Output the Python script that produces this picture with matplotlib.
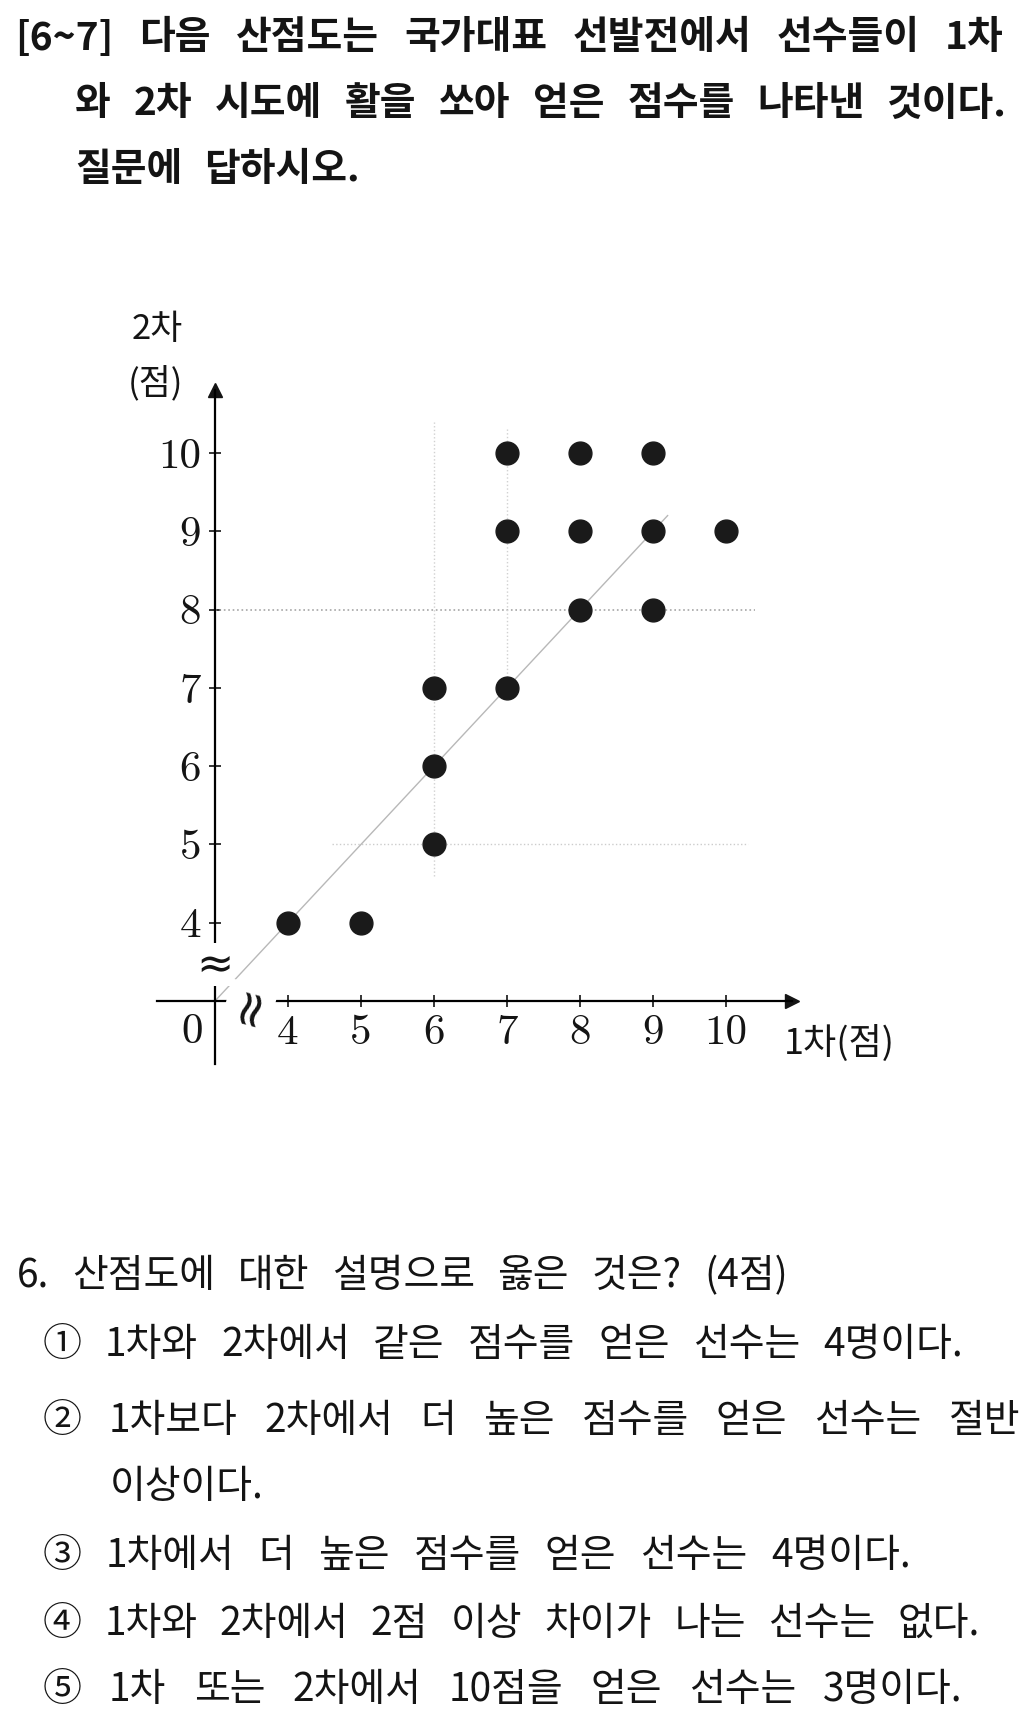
import numpy as np
import matplotlib.pyplot as plt

plt.rcParams['font.family'] = ['Noto Sans CJK KR', 'DejaVu Sans']

# scatter data: 1st and 2nd attempt scores
first = [4, 5, 6, 6, 6, 7, 7, 7, 8, 8, 8, 9, 9, 9, 10]
second = [4, 4, 5, 6, 7, 7, 9, 10, 8, 9, 10, 8, 9, 10, 9]
x_ticks = [4, 5, 6, 7, 8, 9, 10]
y_ticks = [4, 5, 6, 7, 8, 9, 10]

header = [
    "[6~7] 다음 산점도는 국가대표 선발전에서 선수들이 1차",
    "와 2차 시도에 활을 쏘아 얻은 점수를 나타낸 것이다.",
    "질문에 답하시오.",
]
question = "6. 산점도에 대한 설명으로 옳은 것은? (4점)"
choices = [
    "① 1차와 2차에서 같은 점수를 얻은 선수는 4명이다.",
    "② 1차보다 2차에서 더 높은 점수를 얻은 선수는 절반",
    "이상이다.",
    "③ 1차에서 더 높은 점수를 얻은 선수는 4명이다.",
    "④ 1차와 2차에서 2점 이상 차이가 나는 선수는 없다.",
    "⑤ 1차 또는 2차에서 10점을 얻은 선수는 3명이다.",
]

W, H = 1027, 1721
fig = plt.figure(figsize=(W / 100, H / 100), dpi=100)
renderer = fig.canvas.get_renderer()


def put_line(text, x0, y, size, x1=None, weight="normal", color="#141414"):
    # place words one by one, spread to fill x0..x1 (pixels) like the print
    words = text.split(" ")
    arts = [fig.text(0, 1 - y / H, w, fontsize=size, fontweight=weight,
                     va="center", ha="left", color=color) for w in words]
    widths = [a.get_window_extent(renderer).width for a in arts]
    if x1 is None or len(words) == 1:
        gap = size * 100 / 72 * 0.55
    else:
        gap = (x1 - x0 - sum(widths)) / (len(words) - 1)
    x = x0
    for a, w in zip(arts, widths):
        a.set_x(x / W)
        x += w + gap


put_line(header[0], 15, 38, 28, 1004, weight="bold")
put_line(header[1], 75, 104, 28, 1007, weight="bold")
put_line(header[2], 75, 170, 28, weight="bold")

put_line(question, 17, 1276, 28, 788, weight="medium")
rows = [(43, 1345, 963), (43, 1421, 1020), (110, 1487, None),
        (43, 1556, 911), (43, 1624, 980), (43, 1690, 963)]
for txt, (x0, y, x1) in zip(choices, rows):
    put_line(txt, x0, y, 28, x1, weight="medium")

# chart
ax = fig.add_axes([0.1525, 0.382, 0.6184, 0.3912])
ax.patch.set_visible(False)
ax.set_xlim(2.2, 10.9)
ax.set_ylim(2.2, 10.8)
for s in ["top", "right"]:
    ax.spines[s].set_visible(False)
ax.spines["left"].set_position(("data", 3))
ax.spines["bottom"].set_position(("data", 3))
ax.spines["left"].set_linewidth(1.6)
ax.spines["bottom"].set_linewidth(1.6)
ax.plot(1, 3, ">", color="#141414", ms=10, transform=ax.get_yaxis_transform(), clip_on=False)
ax.plot(3, 1, "^", color="#141414", ms=10, transform=ax.get_xaxis_transform(), clip_on=False)

# faint guide lines seen in the print
ax.hlines(8, 3, 10.4, colors="0.65", linestyles=":", lw=1.2)
ax.hlines(5, 4.6, 10.3, colors="0.8", linestyles=":", lw=1.0)
ax.vlines(6, 4.6, 10.4, colors="0.82", linestyles=":", lw=1.0)
ax.vlines(7, 7, 10.3, colors="0.82", linestyles=":", lw=1.0)
ax.plot([3, 9.2], [3, 9.2], color="0.72", lw=1.0)

ax.scatter(first, second, s=270, color="#1a1a1a", zorder=5)

ax.set_xticks(x_ticks)
ax.set_yticks(y_ticks)
ax.set_xticklabels([str(v) for v in x_ticks], fontfamily="cmr10", fontsize=31)
ax.set_yticklabels([str(v) for v in y_ticks], fontfamily="cmr10", fontsize=31)
ax.tick_params(direction="inout", length=8, width=1.2, colors="#141414", pad=6)

ax.text(2.68, 2.6, "0", fontfamily="cmr10", fontsize=31, ha="center", va="center", color="#141414")
ax.text(3, 3.46, "≈", fontsize=32, ha="center", va="center", color="#141414",
        family=["DejaVu Sans"], bbox=dict(fc="white", ec="none", pad=0))
ax.text(3.48, 2.95, "≈", fontsize=36, ha="center", va="center", rotation=75, color="#141414",
        family=["DejaVu Sans"], bbox=dict(fc="white", ec="none", pad=0))

ax.text(-0.04, 1.09, "2차", transform=ax.transAxes, fontsize=25, ha="left", va="center", color="#141414")
ax.text(-0.045, 1.01, "(점)", transform=ax.transAxes, fontsize=25, ha="left", va="center", color="#141414")
ax.text(11.55, 2.46, "1차(점)", fontsize=26, ha="center", va="center", color="#141414", clip_on=False)

fig.savefig("out.png", dpi=100, facecolor="white")
